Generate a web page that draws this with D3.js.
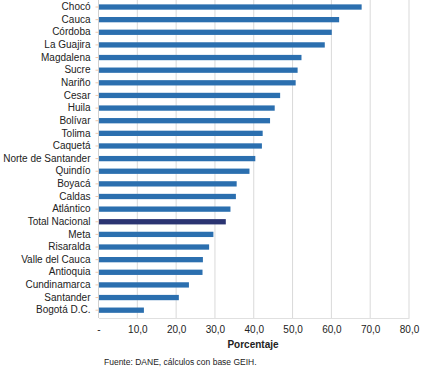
<!DOCTYPE html>
<html><head><meta charset="utf-8">
<script src="https://cdn.jsdelivr.net/npm/d3@7"></script>
<style>body{margin:0;background:#fff}svg{display:block}text{font-family:"Liberation Sans",Arial,sans-serif}</style>
</head><body>
<svg id="c" width="428" height="370"></svg>
<script>
const categories = ["Chocó","Cauca","Córdoba","La Guajira","Magdalena","Sucre","Nariño","Cesar","Huila","Bolívar","Tolima","Caquetá","Norte de Santander","Quindío","Boyacá","Caldas","Atlántico","Total Nacional","Meta","Risaralda","Valle del Cauca","Antioquia","Cundinamarca","Santander","Bogotá D.C."];
const values = [67.8,62.0,60.1,58.3,52.3,51.3,50.8,46.8,45.4,44.2,42.3,42.1,40.4,38.9,35.6,35.4,34.0,32.8,29.6,28.5,26.9,26.8,23.3,20.7,11.7];
const tickValues = [0,10,20,30,40,50,60,70,80];
const tickLabels = ["-","10,0","20,0","30,0","40,0","50,0","60,0","70,0","80,0"];
const highlight = "Total Nacional";
const xTitle = "Porcentaje";
const source = "Fuente: DANE, cálculos con base GEIH.";

const svg = d3.select("#c");
const x = d3.scaleLinear().domain([0,80]).range([98.5,409]);
const y = d3.scaleBand().domain(categories).range([0.7,316.5]).paddingInner(0.58).paddingOuter(0.29);
const bottom = 318;

// gridlines
svg.append("g").selectAll("line").data(tickValues.slice(1)).join("line")
  .attr("x1",d=>x(d)).attr("x2",d=>x(d)).attr("y1",0).attr("y2",bottom)
  .attr("stroke","#d9d9d9").attr("stroke-width",1);

// bars
svg.append("g").selectAll("rect").data(categories).join("rect")
  .attr("x",x(0)).attr("y",d=>y(d))
  .attr("width",(d,i)=>x(values[i])-x(0)).attr("height",y.bandwidth())
  .attr("fill",d=>d===highlight?"#2b3472":"#2b6faf");

// left axis
const ya = svg.append("g").attr("transform",`translate(${x(0)},0)`)
  .call(d3.axisLeft(y).tickSize(3).tickPadding(5));
ya.select(".domain").attr("stroke","#d0d0d0").attr("d",`M0,0V${bottom}`);
ya.selectAll(".tick line").attr("stroke","#f0c8a8");
ya.selectAll("text").attr("font-size","10px").attr("fill","#222");

// bottom axis
const xa = svg.append("g").attr("transform",`translate(0,${bottom})`)
  .call(d3.axisBottom(x).tickValues(tickValues).tickFormat((d,i)=>tickLabels[i]).tickSize(0).tickPadding(8));
xa.select(".domain").attr("stroke","#e0e0e0");
xa.selectAll("text").attr("font-size","10px").attr("fill","#222");

svg.append("text").attr("x",253).attr("y",347.5).attr("text-anchor","middle")
  .attr("font-size","10px").attr("font-weight","bold").attr("fill","#222").text(xTitle);
svg.append("text").attr("x",104).attr("y",364.5)
  .attr("font-size","8.5px").attr("fill","#222").text(source);
</script>
</body></html>
